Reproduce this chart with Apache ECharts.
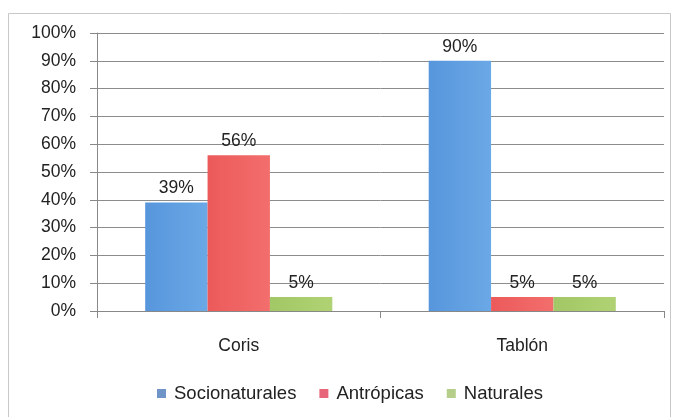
<!DOCTYPE html>
<html><head><meta charset="utf-8">
<script src="https://cdn.jsdelivr.net/npm/echarts@6/dist/echarts.min.js"></script>
<style>html,body{margin:0;padding:0;background:#fff}#c{width:673px;height:417px}</style>
</head><body><div id="c"></div>
<script>
const categories = ['Coris', 'Tablón'];
const seriesNames = ['Socionaturales', 'Antrópicas', 'Naturales'];
const socionaturales = [39, 90];
const antropicas = [56, 5];
const naturales = [5, 5];
const yTicks = [0, 10, 20, 30, 40, 50, 60, 70, 80, 90, 100];

const grad = (a, b) => new echarts.graphic.LinearGradient(0, 0, 1, 0, [{offset: 0, color: a}, {offset: 1, color: b}]);
const colors = [grad('#5796dc', '#6aa8e6'), grad('#ec5a5a', '#f26e6c'), grad('#a2c766', '#b0d274')];
const legendColors = ['#6f95c8', '#e8667a', '#b5cf8a'];
const values = [socionaturales, antropicas, naturales];
const font = 'Liberation Sans, Arial, sans-serif';
const fs = 17.5;

const chart = echarts.init(document.getElementById('c'));
chart.setOption({
  animation: false,
  textStyle: {fontFamily: font},
  graphic: [{type: 'rect', shape: {x: 8.5, y: 13.5, width: 662, height: 410}, style: {fill: 'none', stroke: '#c8c8c8', lineWidth: 1}}],
  grid: {left: 97, right: 9, top: 33, bottom: 106, containLabel: false},
  legend: {
    top: 379, left: 152, itemWidth: 9, itemHeight: 9, itemGap: 23, icon: 'rect',
    textStyle: {fontSize: 18.5, color: '#222', fontFamily: font, padding: [0, 0, 0, 3]},
    data: seriesNames.map((n, i) => ({name: n, itemStyle: {color: legendColors[i]}}))
  },
  xAxis: {
    type: 'category', data: categories,
    axisLine: {lineStyle: {color: '#888'}},
    axisTick: {show: true, length: 7, alignWithLabel: false, lineStyle: {color: '#888'}},
    axisLabel: {fontSize: fs, color: '#222', margin: 26, fontFamily: font}
  },
  yAxis: {
    type: 'value', min: 0, max: 100, interval: 10,
    axisLine: {show: true, lineStyle: {color: '#888'}},
    axisTick: {show: true, length: 7, lineStyle: {color: '#888'}},
    splitLine: {lineStyle: {color: '#8c8c8c'}},
    axisLabel: {fontSize: fs, color: '#222', margin: 21, fontFamily: font,
      formatter: v => yTicks.includes(v) ? v + '%' : ''}
  },
  series: seriesNames.map((n, i) => ({
    name: n, type: 'bar', data: values[i],
    barGap: '0%', barCategoryGap: '34%',
    itemStyle: {color: colors[i]},
    label: {show: true, position: 'top', formatter: '{c}%', fontSize: fs, color: '#222', distance: 5, fontFamily: font}
  }))
});
</script></body></html>
